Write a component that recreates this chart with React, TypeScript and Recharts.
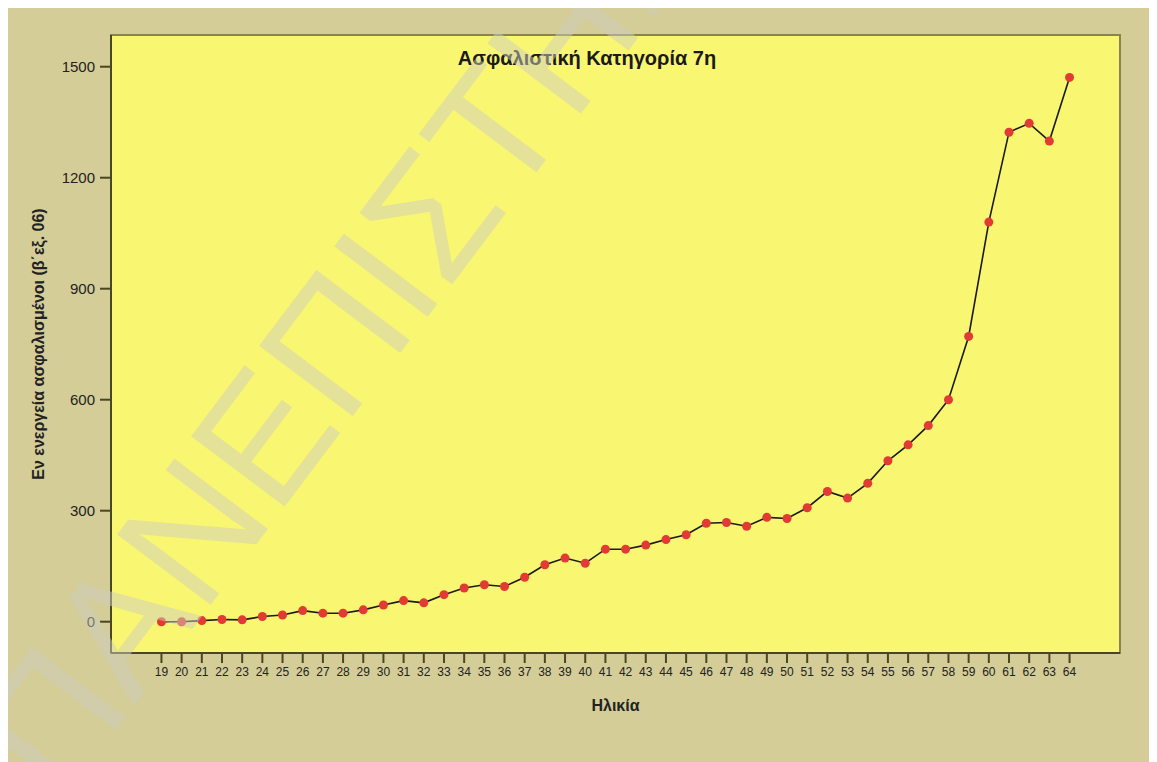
import React from 'react';
import {
  LineChart,
  Line,
  XAxis,
  YAxis,
  ReferenceArea,
  Label,
} from 'recharts';

const AGES = [
  19, 20, 21, 22, 23, 24, 25, 26, 27, 28, 29, 30, 31, 32, 33, 34, 35, 36, 37, 38, 39, 40, 41,
  42, 43, 44, 45, 46, 47, 48, 49, 50, 51, 52, 53, 54, 55, 56, 57, 58, 59, 60, 61, 62, 63, 64,
];
const INSURED = [
  0, 0, 3, 6, 5, 14, 18, 30, 23, 23, 32, 45, 57, 51, 73, 91, 100, 95, 120, 154, 172, 158, 196,
  196, 207, 222, 235, 266, 268, 258, 282, 279, 308, 352, 334, 374, 435, 478, 530, 600, 771, 1080,
  1323, 1347, 1299, 1471,
];
const Y_TICKS = [0, 300, 600, 900, 1200, 1500];

const TITLE = 'Ασφαλιστική Κατηγορία 7η';
const X_LABEL = 'Ηλικία';
const Y_LABEL = 'Εν ενεργεία ασφαλισμένοι (β΄εξ. 06)';
const WATERMARK = 'ΠΑΝΕΠΙΣΤΗΜΙΟ';

const X_DOMAIN: [number, number] = [16.5, 66.5];
const Y_DOMAIN: [number, number] = [-84.6, 1585.7];

const TAN = '#d4cd98';
const YELLOW = '#f9f672';
const AXIS = '#4a4522';
const FONT = '"Liberation Sans", Arial, sans-serif';

const data = AGES.map((age, i) => ({ age, value: INSURED[i] }));

export default function App() {
  return (
    <div style={{ position: 'relative', width: 1149, height: 754, background: TAN, fontFamily: FONT, overflow: 'hidden' }}>
      <LineChart
        width={1149}
        height={754}
        data={data}
        margin={{ top: 27, right: 37, left: 0, bottom: 39 }}
      >
        <ReferenceArea
          x1={X_DOMAIN[0]}
          x2={X_DOMAIN[1]}
          y1={Y_DOMAIN[0]}
          y2={Y_DOMAIN[1]}
          fill={YELLOW}
          fillOpacity={1}
          stroke="#8a8350"
          strokeWidth={2}
          ifOverflow="visible"
        />
        <XAxis
          dataKey="age"
          type="number"
          domain={X_DOMAIN}
          ticks={AGES}
          interval={0}
          allowDataOverflow
          height={70}
          stroke={AXIS}
          strokeWidth={2}
          tickSize={10}
          tickMargin={4}
          tick={{ fill: '#222', fontSize: 12, fontFamily: FONT }}
        >
          <Label
            value={X_LABEL}
            position="insideBottom"
            offset={12}
            style={{ fill: '#222', fontSize: 16, fontWeight: 'bold', fontFamily: FONT }}
          />
        </XAxis>
        <YAxis
          type="number"
          domain={Y_DOMAIN}
          ticks={Y_TICKS}
          allowDataOverflow
          width={103}
          stroke={AXIS}
          strokeWidth={2}
          tickSize={11}
          tickMargin={5}
          tick={{ fill: '#222', fontSize: 15, fontFamily: FONT }}
        >
          <Label
            value={Y_LABEL}
            angle={-90}
            position="insideLeft"
            offset={30}
            style={{ textAnchor: 'middle', fill: '#222', fontSize: 16, fontWeight: 'bold', fontFamily: FONT }}
          />
        </YAxis>
        <Line
          type="linear"
          dataKey="value"
          stroke="#1a1a1a"
          strokeWidth={1.6}
          dot={{ r: 4.5, fill: '#e23a34', stroke: '#e23a34', strokeWidth: 0 }}
          activeDot={false}
          isAnimationActive={false}
        />
      </LineChart>
      <div
        style={{
          position: 'absolute',
          left: 579,
          top: 50,
          transform: 'translate(-50%, -50%)',
          fontSize: 20,
          fontWeight: 'bold',
          color: '#1a1a1a',
          whiteSpace: 'nowrap',
        }}
      >
        {TITLE}
      </div>
      {/* faint diagonal watermark over the whole picture */}
      <svg
        width={1149}
        height={754}
        style={{ position: 'absolute', left: 0, top: 0, pointerEvents: 'none' }}
      >
        <text
          x={5}
          y={761}
          transform="rotate(-53 5 761)"
          dominantBaseline="central"
          fontFamily={FONT}
          fontSize={170}
          fill="rgb(205,205,190)"
          fillOpacity={0.5}
        >
          {WATERMARK}
        </text>
      </svg>
    </div>
  );
}
